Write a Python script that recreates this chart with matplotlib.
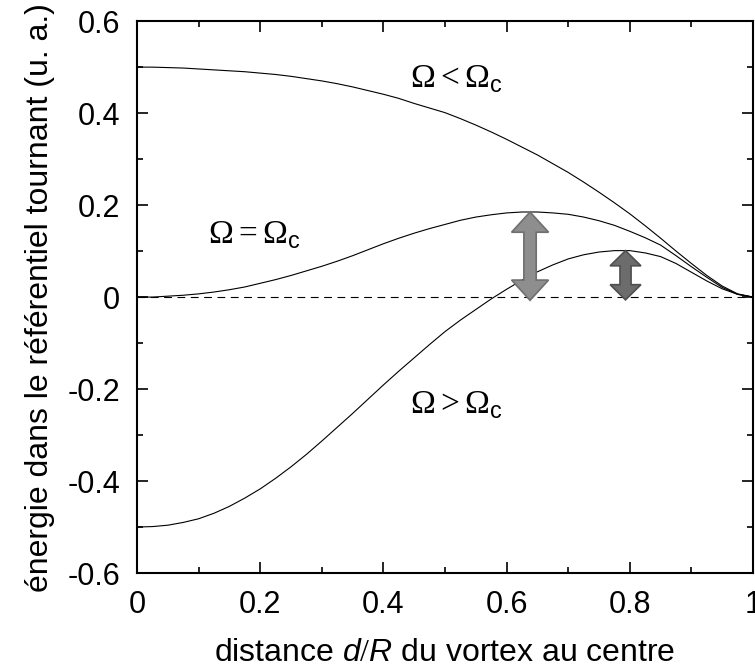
import numpy as np
import matplotlib
matplotlib.use("Agg")
import matplotlib.pyplot as plt
from matplotlib.patches import Polygon

plt.rcParams['font.family'] = ['Liberation Sans', 'DejaVu Sans']
plt.rcParams['mathtext.fontset'] = 'custom'
plt.rcParams['mathtext.rm'] = 'Liberation Serif'
plt.rcParams['mathtext.sf'] = 'Liberation Sans'
plt.rcParams['mathtext.it'] = 'Liberation Sans:italic'
plt.rcParams['axes.unicode_minus'] = False

# distance d/R, every 0.025
d = [0.000, 0.025, 0.050, 0.075, 0.100, 0.125, 0.150, 0.175, 0.200, 0.225,
     0.250, 0.275, 0.300, 0.325, 0.350, 0.375, 0.400, 0.425, 0.450, 0.475,
     0.500, 0.525, 0.550, 0.575, 0.600, 0.625, 0.650, 0.675, 0.700, 0.725,
     0.750, 0.775, 0.800, 0.825, 0.850, 0.875, 0.900, 0.925, 0.950, 0.975, 1.000]

# energy for omega < omega_c
E_below = [0.500, 0.500, 0.499, 0.498, 0.496, 0.494, 0.492, 0.490, 0.487, 0.484,
           0.480, 0.475, 0.470, 0.464, 0.457, 0.449, 0.441, 0.432, 0.421, 0.411,
           0.401, 0.388, 0.374, 0.359, 0.343, 0.326, 0.309, 0.290, 0.271, 0.250,
           0.228, 0.205, 0.181, 0.155, 0.128, 0.100, 0.073, 0.047, 0.024, 0.007, 0.000]
# omega = omega_c
E_crit = [0.000, 0.000, 0.002, 0.004, 0.007, 0.011, 0.016, 0.022, 0.030, 0.038,
          0.047, 0.057, 0.067, 0.078, 0.090, 0.103, 0.116, 0.128, 0.139, 0.149,
          0.158, 0.167, 0.174, 0.179, 0.183, 0.185, 0.185, 0.183, 0.180, 0.174,
          0.166, 0.156, 0.143, 0.129, 0.113, 0.090, 0.066, 0.043, 0.021, 0.006, 0.000]
# omega > omega_c
E_above = [-0.500, -0.499, -0.496, -0.490, -0.482, -0.470, -0.455, -0.437, -0.417, -0.394,
           -0.369, -0.342, -0.313, -0.283, -0.253, -0.222, -0.191, -0.161, -0.132, -0.103,
           -0.075, -0.050, -0.027, -0.004, 0.017, 0.037, 0.055, 0.070, 0.083, 0.092,
           0.098, 0.101, 0.101, 0.096, 0.088, 0.073, 0.054, 0.035, 0.018, 0.006, 0.000]

labels = [r'$\Omega < \Omega_\mathsf{c}$', r'$\Omega = \Omega_\mathsf{c}$', r'$\Omega > \Omega_\mathsf{c}$']
label_pos = [(0.443, 0.456), (0.115, 0.117), (0.443, -0.253)]

# barrier arrows: position, bottom, top
arrow_x = [0.638, 0.793]
arrow_lo = [-0.007, -0.006]
arrow_hi = [0.185, 0.101]
arrow_fill = ['#8e8e8e', '#6c6c6c']
arrow_edge = ['#6f6f6f', '#505050']

xticks = [0, 0.2, 0.4, 0.6, 0.8, 1]
xticklabels = ['0', '0.2', '0.4', '0.6', '0.8', '1']
yticks = [-0.6, -0.4, -0.2, 0, 0.2, 0.4, 0.6]
yticklabels = ['-0.6', '-0.4', '-0.2', '0', '0.2', '0.4', '0.6']

fig = plt.figure(figsize=(7.55, 6.71), dpi=100)
ax = fig.add_axes([0.1815, 0.146, 0.8159, 0.8225])

ax.axhline(0, color='black', lw=0.8, ls=(0, (7, 5)))
for y in [E_below, E_crit, E_above]:
    ax.plot(d, y, color='black', lw=0.8)


def double_arrow(x, y0, y1, hw, bw, hl, fc, ec):
    # block arrow with a head at both ends
    pts = [(x, y1), (x + hw, y1 - hl), (x + bw, y1 - hl), (x + bw, y0 + hl),
           (x + hw, y0 + hl), (x, y0), (x - hw, y0 + hl), (x - bw, y0 + hl),
           (x - bw, y1 - hl), (x - hw, y1 - hl)]
    ax.add_patch(Polygon(pts, closed=True, fc=fc, ec=ec, lw=1.2, zorder=3))


double_arrow(arrow_x[0], arrow_lo[0], arrow_hi[0], 0.030, 0.010, 0.044, arrow_fill[0], arrow_edge[0])
double_arrow(arrow_x[1], arrow_lo[1], arrow_hi[1], 0.025, 0.009, 0.033, arrow_fill[1], arrow_edge[1])

for txt, (tx, ty) in zip(labels, label_pos):
    ax.text(tx, ty, txt, fontsize=24, ha='left', va='baseline')

ax.set_xlim(0, 1)
ax.set_ylim(-0.6, 0.6)
ax.set_xticks(xticks)
ax.set_xticklabels(xticklabels)
ax.set_yticks(yticks)
ax.set_yticklabels(yticklabels)
ax.set_xticks(np.arange(0.1, 1.0, 0.2), minor=True)
ax.set_yticks(np.arange(-0.5, 0.6, 0.2), minor=True)
ax.tick_params(which='both', direction='in', top=True, right=True, width=1.2, labelsize=22)
ax.tick_params(which='major', length=8, pad=12)
ax.tick_params(which='minor', length=4)
for s in ax.spines.values():
    s.set_linewidth(1.5)

ax.set_xlabel(r'distance $\mathit{d/R}$ du vortex au centre', fontsize=23, labelpad=13)
ax.set_ylabel('énergie dans le référentiel tournant (u. a.)', fontsize=23, labelpad=9)

fig.savefig('out.png', dpi=100)
